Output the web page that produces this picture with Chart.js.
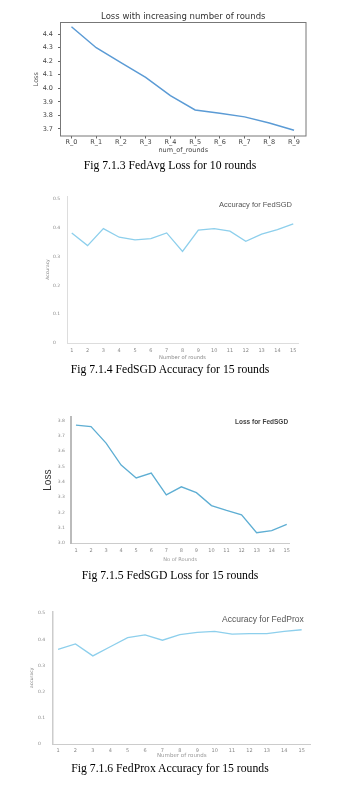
<!DOCTYPE html>
<html><head><meta charset="utf-8">
<script src="https://cdn.jsdelivr.net/npm/chart.js@4.4.1/dist/chart.umd.min.js"></script>
<style>
html,body{margin:0;padding:0;background:#fff;}
body{width:364px;height:788px;position:relative;overflow:hidden;}
canvas{position:absolute;left:0;}
.t{position:absolute;white-space:nowrap;line-height:1;transform:translateY(-50%);font-family:'Liberation Sans',Arial,sans-serif;}
.cap{position:absolute;left:0;width:340px;text-align:center;font-family:'Liberation Serif','Times New Roman',serif;font-size:11.7px;color:#000;line-height:1;transform:translateY(-50%);white-space:nowrap;}
</style></head><body>
<canvas id="c1" width="364" height="180" style="top:0px"></canvas>
<canvas id="c2" width="364" height="200" style="top:180px"></canvas>
<canvas id="c3" width="364" height="210" style="top:380px"></canvas>
<canvas id="c4" width="364" height="198" style="top:590px"></canvas>
<div class="t" style="left:219px;top:204.7px;font-size:7.5px;color:#555;">Accuracy for FedSGD</div>
<div class="t" style="left:235px;top:421.7px;font-size:6.5px;font-weight:bold;color:#444;">Loss for FedSGD</div>
<div class="t" style="left:222px;top:618.7px;font-size:8.5px;color:#555;">Accuracy for FedProx</div>
<div class="cap" style="top:165.7px">Fig 7.1.3 FedAvg Loss for 10 rounds</div>
<div class="cap" style="top:369.5px">Fig 7.1.4 FedSGD Accuracy for 15 rounds</div>
<div class="cap" style="top:576px">Fig 7.1.5 FedSGD Loss for 15 rounds</div>
<div class="cap" style="top:769px">Fig 7.1.6 FedProx Accuracy for 15 rounds</div>
<script>
// ---- data ----
const fedAvgRounds = ['R_0','R_1','R_2','R_3','R_4','R_5','R_6','R_7','R_8','R_9'];
const fedAvgLoss = [4.454, 4.299, 4.189, 4.081, 3.945, 3.840, 3.816, 3.789, 3.744, 3.690];
const fedAvgLossTicks = [3.7, 3.8, 3.9, 4.0, 4.1, 4.2, 4.3, 4.4];

const rounds15 = [1,2,3,4,5,6,7,8,9,10,11,12,13,14,15];
const fedSgdAccuracy = [0.382, 0.338, 0.397, 0.367, 0.358, 0.362, 0.382, 0.318, 0.392, 0.397, 0.388, 0.353, 0.378, 0.393, 0.413];
const fedSgdLoss = [3.770, 3.760, 3.653, 3.510, 3.426, 3.458, 3.316, 3.368, 3.330, 3.246, 3.214, 3.186, 3.069, 3.082, 3.123];
const fedProxAccuracy = [0.362, 0.383, 0.337, 0.372, 0.407, 0.417, 0.397, 0.418, 0.427, 0.431, 0.420, 0.422, 0.422, 0.431, 0.437];
const accuracyTicks = [0, 0.1, 0.2, 0.3, 0.4, 0.5];
const lossSgdTicks = [3.0, 3.1, 3.2, 3.3, 3.4, 3.5, 3.6, 3.7, 3.8];

Chart.defaults.font.family = "'Liberation Sans', Arial, sans-serif";

function lineChart(id, o) {
  return new Chart(document.getElementById(id), {
    type: 'line',
    data: { datasets: [{ data: o.points, borderColor: o.color, borderWidth: o.lw, pointRadius: 0, tension: 0, fill: false }] },
    options: {
      responsive: false, animation: false, events: [], devicePixelRatio: 1,
      layout: { padding: o.pad },
      plugins: { legend: { display: false }, tooltip: { enabled: false }, title: o.title || { display: false } },
      scales: {
        x: {
          type: 'linear', min: o.xmin, max: o.xmax, bounds: 'data',
          afterBuildTicks: s => { s.ticks = o.xticks.map(v => ({ value: v })); },
          afterFit: s => { s.height = o.xh; },
          ticks: Object.assign({ autoSkip: false, maxRotation: 0, minRotation: 0, callback: o.xlabel }, o.xtick),
          grid: o.xgrid, border: o.xborder, title: o.xtitle
        },
        y: {
          type: 'linear', min: o.ymin, max: o.ymax, bounds: 'data',
          afterBuildTicks: s => { s.ticks = o.yticks.map(v => ({ value: v })); },
          afterFit: s => { s.width = o.yw; },
          ticks: Object.assign({ autoSkip: false, callback: o.ylabel }, o.ytick),
          grid: o.ygrid, border: o.yborder, title: o.ytitle
        }
      }
    },
    plugins: o.plugins || []
  });
}

const frame = { id: 'frame', afterDatasetsDraw(c) {
  const a = c.chartArea, x = c.ctx; x.save(); x.strokeStyle = '#777'; x.lineWidth = 1;
  x.strokeRect(a.left, a.top, a.right - a.left, a.bottom - a.top); x.restore(); } };

const mpl = "'DejaVu Sans', sans-serif";
const mplGrid = { display: true, drawOnChartArea: false, drawTicks: true, tickLength: 2.5, color: '#666', lineWidth: 1 };

// Chart 1: FedAvg loss
lineChart('c1', {
  points: fedAvgLoss.map((v, i) => ({ x: i, y: v })),
  color: '#5b9bd5', lw: 1.5,
  pad: { left: 0, right: 58, top: 0, bottom: 24 },
  title: { display: true, text: 'Loss with increasing number of rounds', fullSize: false,
           font: { family: mpl, size: 8.5, weight: 'normal' }, color: '#333', padding: { top: 11.4, bottom: 0.9 } },
  xmin: -0.444, xmax: 9.484, xticks: fedAvgRounds.map((r, i) => i), xh: 20,
  xlabel: v => fedAvgRounds[v],
  xtick: { font: { family: mpl, size: 6.5 }, color: '#444', padding: 0 },
  xgrid: mplGrid, xborder: { display: false },
  xtitle: { display: true, text: 'num_of_rounds', font: { family: mpl, size: 6.5 }, color: '#444', padding: { top: 0, bottom: 1.6 } },
  ymin: 3.648, ymax: 4.485, yticks: fedAvgLossTicks, yw: 60.5,
  ylabel: v => v.toFixed(1),
  ytick: { font: { family: mpl, size: 6.5 }, color: '#444', padding: 5 },
  ygrid: mplGrid, yborder: { display: false },
  ytitle: { display: true, text: 'Loss', font: { family: mpl, size: 6.5 }, color: '#555', padding: { top: 32.8, bottom: 0 } },
  plugins: [frame]
});

const gFont = "'DejaVu Sans', sans-serif";
const noGrid = { display: false, drawTicks: false };
const accLabel = v => v === 0 ? '0' : v.toFixed(1);

// Chart 2: FedSGD accuracy
lineChart('c2', {
  points: rounds15.map((r, i) => ({ x: r, y: fedSgdAccuracy[i] })),
  color: '#8dcfec', lw: 1.3,
  pad: { left: 53, right: 66, top: 16, bottom: 19 },
  xmin: 0.7, xmax: 15.3, xticks: rounds15, xh: 18, xlabel: v => String(v),
  xtick: { font: { family: gFont, size: 5 }, color: '#888', padding: 4.7 },
  xgrid: noGrid, xborder: { display: true, color: '#ddd', width: 1 },
  xtitle: { display: true, text: 'Number of rounds', font: { family: gFont, size: 5.2 }, color: '#888', padding: { top: 0, bottom: 0.6 } },
  ymin: 0, ymax: 0.51, yticks: accuracyTicks, yw: 14, ylabel: accLabel,
  ytick: { font: { family: gFont, size: 4.5 }, color: '#888', crossAlign: 'far', padding: 0 },
  ygrid: noGrid, yborder: { display: true, color: '#ddd', width: 1 },
  ytitle: { display: true, text: 'Accuracy', font: { family: gFont, size: 4.5 }, color: '#888', padding: { top: -8, bottom: 0 } }
});

// Chart 3: FedSGD loss
lineChart('c3', {
  points: rounds15.map((r, i) => ({ x: r, y: fedSgdLoss[i] })),
  color: '#5eaed3', lw: 1.3,
  pad: { left: 57.7, right: 74.7, top: 37, bottom: 26.7 },
  xmin: 0.67, xmax: 15.17, xticks: rounds15, xh: 20, xlabel: v => String(v),
  xtick: { font: { family: gFont, size: 5 }, color: '#888', padding: 4.7 },
  xgrid: noGrid, xborder: { display: true, color: '#ccc', width: 1 },
  xtitle: { display: true, text: 'No of Rounds', font: { family: gFont, size: 5.1 }, color: '#999', padding: { top: 0, bottom: 0.9 } },
  ymin: 3.0, ymax: 3.823, yticks: lossSgdTicks, yw: 13.3, ylabel: v => v.toFixed(1),
  ytick: { font: { family: gFont, size: 4.5 }, color: '#888', crossAlign: 'far', padding: 0 },
  ygrid: noGrid, yborder: { display: true, color: '#bbb', width: 2 },
  ytitle: { display: true, text: 'Loss', font: { family: "'Liberation Sans Narrow', 'Liberation Sans', sans-serif", size: 10 }, color: '#333', padding: { top: -15.2, bottom: 0 } }
});

// Chart 4: FedProx accuracy
lineChart('c4', {
  points: rounds15.map((r, i) => ({ x: r, y: fedProxAccuracy[i] })),
  color: '#8dcfec', lw: 1.3,
  pad: { left: 38, right: 53.3, top: 21.7, bottom: 28 },
  xmin: 0.71, xmax: 15.52, xticks: rounds15, xh: 16, xlabel: v => String(v),
  xtick: { font: { family: gFont, size: 5 }, color: '#888', padding: 3.3 },
  xgrid: noGrid, xborder: { display: true, color: '#ccc', width: 1 },
  xtitle: { display: true, text: 'Number of rounds', font: { family: gFont, size: 5.5 }, color: '#999', padding: { top: 0, bottom: 1 } },
  ymin: 0, ymax: 0.506, yticks: accuracyTicks, yw: 15, ylabel: accLabel,
  ytick: { font: { family: gFont, size: 4.5 }, color: '#888', crossAlign: 'far', padding: 0 },
  ygrid: noGrid, yborder: { display: true, color: '#ccc', width: 1.5 },
  ytitle: { display: true, text: 'accuracy', font: { family: gFont, size: 4.5 }, color: '#888', padding: { top: -9, bottom: 0 } }
});
</script>
</body></html>
